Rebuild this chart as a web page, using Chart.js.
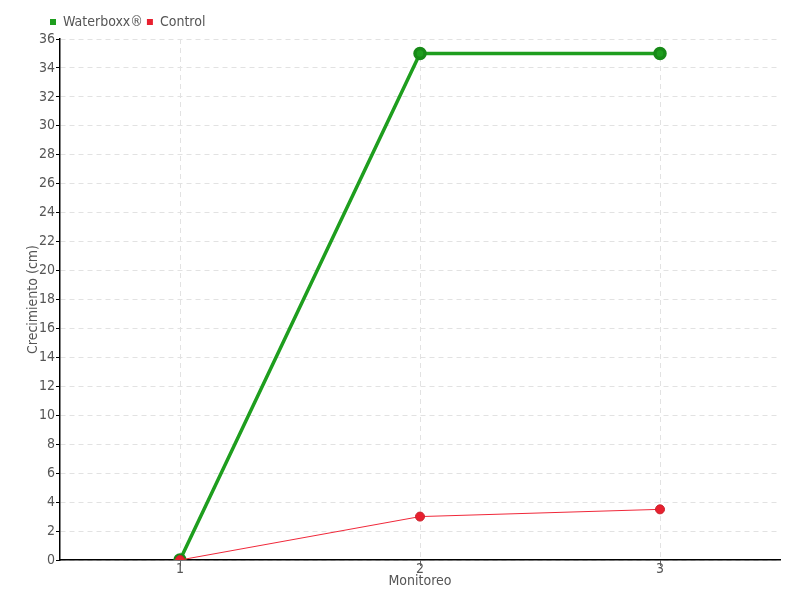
<!DOCTYPE html>
<html>
<head>
<meta charset="utf-8">
<script src="https://cdn.jsdelivr.net/npm/chart.js@4/dist/chart.umd.min.js"></script>
<style>
html,body{margin:0;padding:0;background:#fff;}
#wrap{width:800px;height:600px;}
</style>
</head>
<body>
<div id="wrap"><canvas id="c" width="800" height="600"></canvas></div>
<script>
const categories = ['1', '2', '3'];
const waterboxx = [0, 35, 35];
const control = [0, 3, 3.5];
const seriesNames = ['Waterboxx®', 'Control'];
const yMin = 0, yMax = 36, yStep = 2;

const FONT = '"DejaVu Sans Condensed", "DejaVu Sans", sans-serif';
Chart.defaults.font.family = FONT;
Chart.defaults.color = '#555';

new Chart(document.getElementById('c'), {
  type: 'line',
  data: {
    labels: categories,
    datasets: [
      {
        label: seriesNames[0],
        data: waterboxx,
        order: 1,
        borderColor: '#1e9e1e',
        backgroundColor: '#1e9e1e',
        pointBackgroundColor: '#1e9e1e',
        pointBorderColor: '#178a17',
        borderWidth: 3.5,
        pointRadius: 5,
        tension: 0,
        fill: false
      },
      {
        label: seriesNames[1],
        data: control,
        order: 0,
        borderColor: '#f0283a',
        backgroundColor: '#e8202f',
        pointBackgroundColor: '#e8202f',
        pointBorderColor: '#c8202a',
        borderWidth: 1,
        pointRadius: 4.5,
        tension: 0,
        fill: false
      }
    ]
  },
  options: {
    responsive: false,
    animation: false,
    layout: { padding: { left: 0, right: 20, top: 11, bottom: 0 } },
    plugins: {
      legend: {
        align: 'start',
        labels: {
          boxWidth: 6, boxHeight: 6, padding: 4,
          font: { size: 14, family: FONT }, color: '#555',
          generateLabels(chart) {
            return [0, 1].map(i => {
              const d = chart.data.datasets[i];
              return {
                text: d.label, fillStyle: d.backgroundColor, strokeStyle: d.backgroundColor,
                fontColor: '#555', lineWidth: 0, datasetIndex: i
              };
            });
          }
        }
      },
      tooltip: { enabled: false }
    },
    scales: {
      x: {
        offset: true,
        grid: { color: '#e2e2e2', tickColor: '#666', tickLength: 6, offset: false },
        border: { color: '#000', width: 1.5, dash: [5, 4] },
        ticks: { font: { size: 14, family: FONT }, color: '#555', padding: -5 },
        title: { display: true, text: 'Monitoreo', font: { size: 14, family: FONT }, color: '#555', padding: { top: 10, bottom: 10 } },
        afterFit(s) { s.height = 40; }
      },
      y: {
        min: yMin, max: yMax,
        grid: { color: '#e2e2e2', tickColor: '#000', tickLength: 4 },
        border: { color: '#000', width: 1.5, dash: [5, 4] },
        ticks: { stepSize: yStep, font: { size: 14, family: FONT }, color: '#555', padding: 1 },
        title: { display: true, text: 'Crecimiento (cm)', font: { size: 14, family: FONT }, color: '#555', padding: { top: 25, bottom: 25 } },
        afterFit(s) { s.width = 60; }
      }
    }
  },
  plugins: [{
    id: 'legendShift',
    afterLayout(chart) {
      if (chart.legend) chart.legend.left = 46;
    }
  }]
});
</script>
</body>
</html>
